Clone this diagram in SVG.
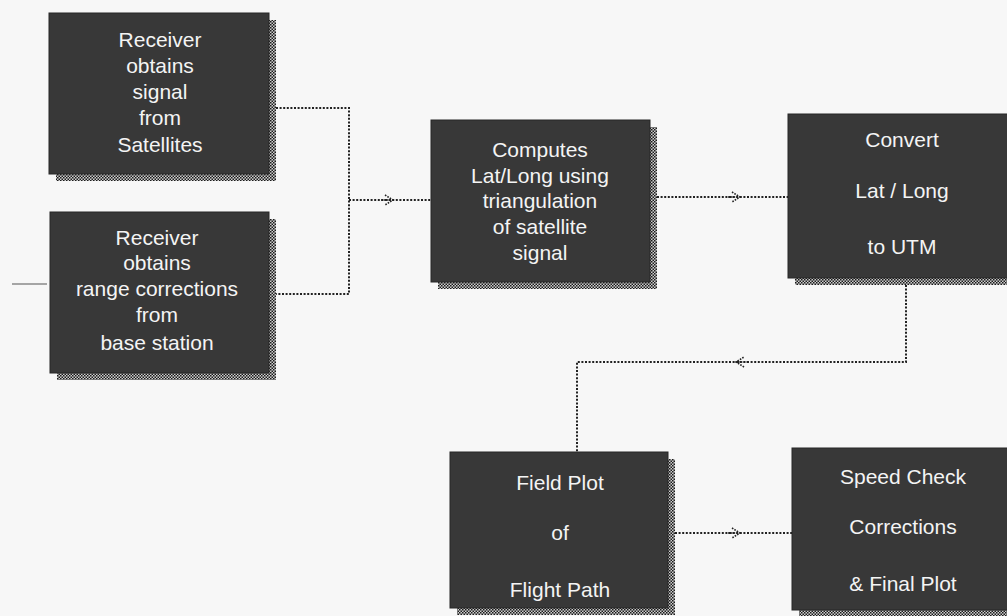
<svg xmlns="http://www.w3.org/2000/svg" xmlns:xlink="http://www.w3.org/1999/xlink" width="1007" height="616" viewBox="0 0 1007 616">
<style>
.box{fill:#383838;stroke:#262626;stroke-width:1}
.shadow{fill:url(#checker)}
.lbl{font-family:"Liberation Sans",Arial,Helvetica,sans-serif;font-size:21px;fill:#f4f4f4;text-anchor:middle}
.conn{fill:none;stroke:#222;stroke-width:2;stroke-dasharray:2 1.6}
.arrow{fill:none;stroke:#222;stroke-width:1.6;stroke-dasharray:1.6 1.2}
</style>
<defs>
<pattern id="checker" width="3" height="3" patternUnits="userSpaceOnUse">
<rect width="3" height="3" fill="#cfcfcf"/>
<rect width="1.5" height="1.5" fill="#1a1a1a"/>
<rect x="1.5" y="1.5" width="1.5" height="1.5" fill="#1a1a1a"/>
</pattern>
<path id="arr" d="M-4,-5 L4,0 L-4,5 M-8,0 L4,0"/>
</defs>
<rect width="1007" height="616" fill="#f7f7f7"/>

<g id="connectors">
<path class="conn" d="M276,108 H349 V294 H276"/>
<path class="conn" d="M349,200 H433"/>
<use xlink:href="#arr" href="#arr" class="arrow" transform="translate(389,200)"/>
<path class="conn" d="M657,197 H788"/>
<use xlink:href="#arr" href="#arr" class="arrow" transform="translate(736,197)"/>
<path class="conn" d="M906,285 V362 H577 V452"/>
<use xlink:href="#arr" href="#arr" class="arrow" transform="translate(740,362) rotate(180)"/>
<path class="conn" d="M675,533 H792"/>
<use xlink:href="#arr" href="#arr" class="arrow" transform="translate(736,533)"/>
<path d="M12,284 H47" stroke="#555" stroke-width="1.2" fill="none"/>
</g>

<g id="node-receiver-satellites">
<rect class="shadow" x="56" y="20" width="220" height="161"/>
<rect class="box" x="49" y="13" width="220" height="161"/>
<text class="lbl" x="160" y="47">Receiver</text>
<text class="lbl" x="160" y="73">obtains</text>
<text class="lbl" x="160" y="99">signal</text>
<text class="lbl" x="160" y="125">from</text>
<text class="lbl" x="160" y="152">Satellites</text>
</g>

<g id="node-receiver-base">
<rect class="shadow" x="57" y="219" width="219" height="161"/>
<rect class="box" x="50" y="212" width="219" height="161"/>
<text class="lbl" x="157" y="245">Receiver</text>
<text class="lbl" x="157" y="270">obtains</text>
<text class="lbl" x="157" y="296">range corrections</text>
<text class="lbl" x="157" y="322">from</text>
<text class="lbl" x="157" y="350">base station</text>
</g>

<g id="node-computes">
<rect class="shadow" x="438" y="127" width="219" height="162"/>
<rect class="box" x="431" y="120" width="219" height="162"/>
<text class="lbl" x="540" y="157">Computes</text>
<text class="lbl" x="540" y="183">Lat/Long using</text>
<text class="lbl" x="540" y="208">triangulation</text>
<text class="lbl" x="540" y="234">of satellite</text>
<text class="lbl" x="540" y="260">signal</text>
</g>

<g id="node-convert">
<rect class="shadow" x="795" y="121" width="240" height="164"/>
<rect class="box" x="788" y="114" width="240" height="164"/>
<text class="lbl" x="902" y="147">Convert</text>
<text class="lbl" x="902" y="198">Lat / Long</text>
<text class="lbl" x="902" y="254">to UTM</text>
</g>

<g id="node-field-plot">
<rect class="shadow" x="457" y="459" width="218" height="156"/>
<rect class="box" x="450" y="452" width="218" height="156"/>
<text class="lbl" x="560" y="490">Field Plot</text>
<text class="lbl" x="560" y="540">of</text>
<text class="lbl" x="560" y="597">Flight Path</text>
</g>

<g id="node-speed-check">
<rect class="shadow" x="799" y="455" width="240" height="162"/>
<rect class="box" x="792" y="448" width="240" height="162"/>
<text class="lbl" x="903" y="484">Speed Check</text>
<text class="lbl" x="903" y="534">Corrections</text>
<text class="lbl" x="903" y="591">&amp; Final Plot</text>
</g>
</svg>
